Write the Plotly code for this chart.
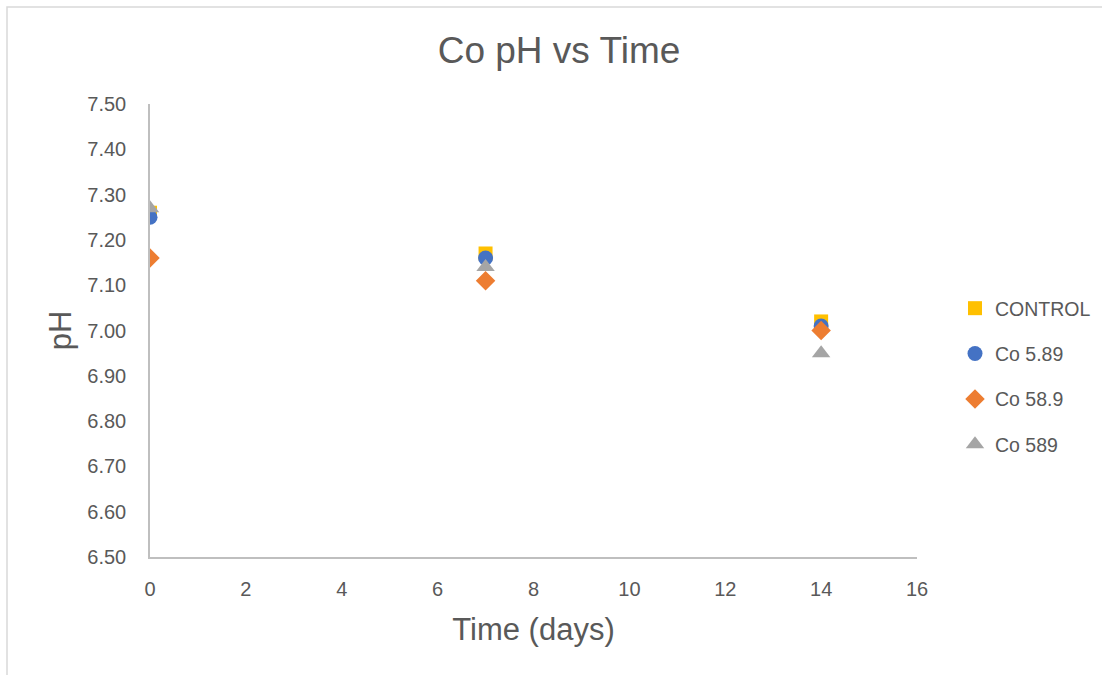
import plotly.graph_objects as go

# pH readings over time for each cobalt treatment
days = [0, 7, 14]
control = [7.26, 7.17, 7.02]
co_5_89 = [7.25, 7.16, 7.01]
co_58_9 = [7.16, 7.11, 7.00]
co_589 = [7.27, 7.14, 6.95]

series_names = ["CONTROL", "Co 5.89", "Co 58.9", "Co 589"]
series_values = [control, co_5_89, co_58_9, co_589]
series_colors = ["#FFC000", "#4472C4", "#ED7D31", "#A5A5A5"]
series_symbols = ["square", "circle", "diamond", "triangle-up"]
series_sizes = [14, 15, 15, 16]

y_ticks = [6.5, 6.6, 6.7, 6.8, 6.9, 7.0, 7.1, 7.2, 7.3, 7.4, 7.5]
x_ticks = [0, 2, 4, 6, 8, 10, 12, 14, 16]

FONT = "Liberation Sans"
TEXT = "#595959"
W, H = 1102, 675

fig = go.Figure()
for name, vals, col, sym, sz in zip(series_names, series_values, series_colors,
                                     series_symbols, series_sizes):
    fig.add_trace(go.Scatter(
        x=days, y=vals, mode="markers", name=name, legendgroup=name,
        marker=dict(symbol=sym, color=col, size=sz, line=dict(width=0)),
    ))

fig.update_layout(
    width=W, height=H,
    margin=dict(l=150, r=185, t=104, b=118),
    paper_bgcolor="white", plot_bgcolor="white",
    font=dict(family=FONT, color=TEXT, size=20),
    title=dict(text="Co pH vs Time", x=559 / W, xref="container", xanchor="center",
               y=1 - 50 / H, yanchor="middle",
               font=dict(size=37, color=TEXT, family=FONT)),
    showlegend=True,
    legend=dict(xref="container", yref="container",
                x=955 / W, xanchor="left",
                y=1 - 289 / H, yanchor="top",
                font=dict(size=19.5, color=TEXT, family=FONT),
                tracegroupgap=17, itemwidth=30, bgcolor="rgba(0,0,0,0)"),
    xaxis=dict(range=[0, 16], tickvals=x_ticks, showgrid=False, zeroline=False,
               showline=True, linecolor="#BFBFBF", linewidth=1.5,
               ticks="", ticklabelstandoff=13,
               tickfont=dict(size=20, color=TEXT),
               title=dict(text="Time (days)", standoff=20,
                          font=dict(size=31, color=TEXT))),
    yaxis=dict(range=[6.5, 7.5], tickvals=y_ticks, tickformat=".2f",
               showgrid=False, zeroline=False,
               showline=True, linecolor="#BFBFBF", linewidth=1.5,
               ticks="", ticklabelstandoff=18,
               tickfont=dict(size=20, color=TEXT),
               title=dict(text="pH", standoff=6,
                          font=dict(size=31, color=TEXT))),
    shapes=[dict(type="rect", xref="paper", yref="paper",
                 x0=(7 - 150) / 767, x1=(1120 - 150) / 767,
                 y0=(557 - 700) / 453, y1=(557 - 7) / 453,
                 line=dict(color="#D9D9D9", width=1.5), layer="below")],
)

fig.write_html("out.html")
